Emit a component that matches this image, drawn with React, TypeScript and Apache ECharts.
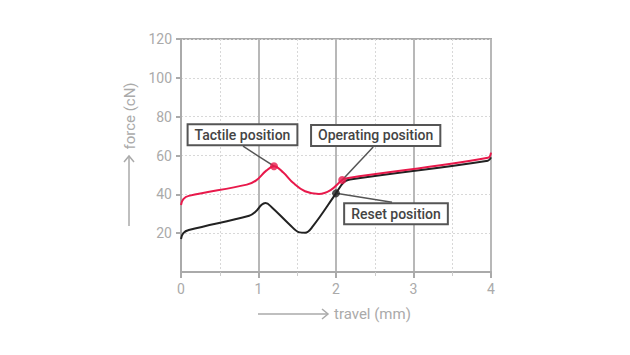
import React, { useEffect, useRef } from "react";
import * as echarts from "echarts";

// travel (mm) / force (cN)
const redTravel = [0, 0.03, 0.1, 0.85, 0.97, 1.1, 1.2, 1.32, 1.45, 1.6, 1.78, 1.93, 2.08, 2.14, 3.96, 4.0];
const redForce = [34.5, 37.5, 39.2, 45.0, 47.2, 52.2, 54.5, 51.2, 45.8, 41.6, 40.2, 42.2, 47.4, 48.3, 58.8, 61.5];
const blackTravel = [0, 0.03, 0.1, 0.88, 0.96, 1.04, 1.09, 1.17, 1.4, 1.53, 1.6, 1.7, 2.0, 2.1, 2.18, 3.96, 4.0];
const blackForce = [17.0, 20.0, 21.6, 29.0, 31.0, 34.6, 35.5, 33.4, 24.5, 20.4, 20.2, 23.5, 40.5, 46.2, 47.6, 57.3, 59.0];

const xTicks = [0, 1, 2, 3, 4];
const yTicks = [0, 20, 40, 60, 80, 100, 120];

const annotNames = ["Tactile position", "Operating position", "Reset position"];
const annotTravel = [1.2, 2.08, 2.0];
const annotForce = [54.5, 47.4, 40.5];
const annotColors = ["#e8194b", "#e8194b", "#222222"];
// layout: box centre offset and leader end offset (pixels from marker)
const boxOffset = [[-31.5, -31.5], [33.5, -44.5], [60, 20.5]];
const leaderEnd = [[-31, -20], [31, -33], [56, 9]];

const RED = "#e8194b";
const BLACK = "#222222";
const GREY = "#aaaaaa";
const FONT = "Roboto, 'DejaVu Sans', sans-serif";

export default function App() {
  const ref = useRef<HTMLDivElement>(null);
  useEffect(() => {
    if (!ref.current) return;
    const chart = echarts.init(ref.current, undefined, { renderer: "svg" });
    const red = redTravel.map((x, i) => [x, redForce[i]]);
    const black = blackTravel.map((x, i) => [x, blackForce[i]]);
    chart.setOption({
      animation: false,
      backgroundColor: "#ffffff",
      grid: { left: 181, right: 139, top: 39, bottom: 83, show: true, borderColor: GREY, borderWidth: 2 },
      xAxis: {
        type: "value",
        min: xTicks[0],
        max: xTicks[xTicks.length - 1],
        interval: 1,
        axisLine: { lineStyle: { color: GREY, width: 2 } },
        axisTick: { length: 6, lineStyle: { color: GREY, width: 2 } },
        minorTick: { show: true, splitNumber: 2, length: 4, lineStyle: { color: "#cccccc", width: 1 } },
        splitLine: { show: true, lineStyle: { color: "#b8b8b8", width: 2 } },
        minorSplitLine: { show: true, lineStyle: { color: "#d8d8d8", width: 1, type: [2, 2] } },
        axisLabel: { color: GREY, fontSize: 14, fontFamily: FONT, margin: 10 },
      },
      yAxis: {
        type: "value",
        min: yTicks[0],
        max: yTicks[yTicks.length - 1],
        interval: 20,
        axisLine: { show: true, lineStyle: { color: GREY, width: 2 } },
        axisTick: { show: true, length: 5, lineStyle: { color: GREY, width: 2 } },
        splitLine: { show: true, lineStyle: { color: "#d8d8d8", width: 1, type: [2, 2] } },
        axisLabel: { color: GREY, fontSize: 14, fontFamily: FONT, margin: 9, showMinLabel: false },
      },
      series: [
        { type: "line", data: red, smooth: 0.4, symbol: "none", lineStyle: { color: RED, width: 2 }, z: 3 },
        { type: "line", data: black, smooth: 0.4, symbol: "none", lineStyle: { color: BLACK, width: 2 }, z: 2 },
        {
          type: "scatter",
          z: 5,
          symbolSize: 8,
          data: annotTravel.map((x, i) => ({ value: [x, annotForce[i]], itemStyle: { color: annotColors[i] } })),
        },
      ],
    });

    const graphics: any[] = [];
    annotNames.forEach((name, i) => {
      const p = chart.convertToPixel({ gridIndex: 0 }, [annotTravel[i], annotForce[i]]) as number[];
      graphics.push({
        type: "line",
        z: 4,
        shape: { x1: p[0], y1: p[1], x2: p[0] + leaderEnd[i][0], y2: p[1] + leaderEnd[i][1] },
        style: { stroke: "#555555", lineWidth: 1.5 },
      });
      graphics.push({
        type: "text",
        z: 10,
        x: p[0] + boxOffset[i][0],
        y: p[1] + boxOffset[i][1],
        style: {
          text: name,
          fontFamily: FONT,
          fontSize: 14,
          fontWeight: 500,
          fill: "#444444",
          align: "center",
          verticalAlign: "middle",
          backgroundColor: "#ffffff",
          borderColor: "#555555",
          borderWidth: 2,
          padding: [3, 6, 2, 6],
        },
      });
    });
    // axis titles with arrows
    graphics.push(
      { type: "line", shape: { x1: 258, y1: 314, x2: 328, y2: 314 }, style: { stroke: GREY, lineWidth: 1.5 } },
      { type: "polyline", shape: { points: [[322, 309], [328, 314], [322, 319]] }, style: { stroke: GREY, lineWidth: 1.5, fill: null } },
      { type: "text", x: 334, y: 314, style: { text: "travel (mm)", fontFamily: FONT, fontSize: 15, fill: GREY, align: "left", verticalAlign: "middle" } },
      { type: "line", shape: { x1: 129, y1: 226, x2: 129, y2: 156 }, style: { stroke: GREY, lineWidth: 1.5 } },
      { type: "polyline", shape: { points: [[124, 162], [129, 156], [134, 162]] }, style: { stroke: GREY, lineWidth: 1.5, fill: null } },
      { type: "text", x: 130, y: 116, rotation: Math.PI / 2, style: { text: "force (cN)", fontFamily: FONT, fontSize: 15, fill: GREY, align: "center", verticalAlign: "middle" } }
    );
    chart.setOption({ graphic: graphics });
    return () => chart.dispose();
  }, []);
  return <div ref={ref} style={{ position: "absolute", left: 0, top: 0, width: 630, height: 355 }} />;
}
